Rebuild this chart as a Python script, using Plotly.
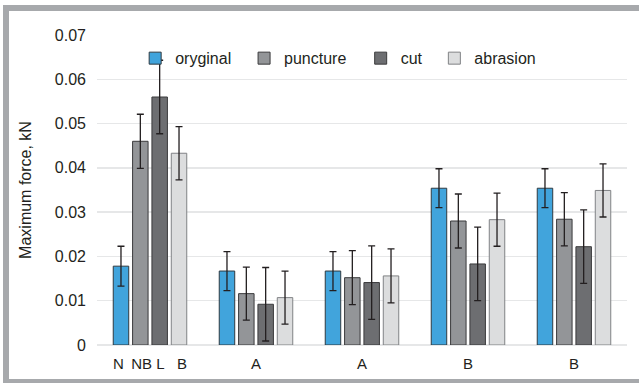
import plotly.graph_objects as go

groups = ["N\u2002NB\u00a0L\u00a0\u00a0\u00a0B", "A", "A", "B", "B"]
group_pos = [0, 1, 2, 3, 4]

series_names = ["oryginal", "puncture", "cut", "abrasion"]
oryginal = [0.0178, 0.0167, 0.0167, 0.0354, 0.0354]
puncture = [0.0460, 0.0116, 0.0152, 0.0280, 0.0284]
cut = [0.0560, 0.0092, 0.0141, 0.0183, 0.0222]
abrasion = [0.0433, 0.0107, 0.0156, 0.0283, 0.0349]

err_oryginal = [0.0045, 0.0044, 0.0044, 0.0044, 0.0044]
err_puncture = [0.0061, 0.0060, 0.0061, 0.0061, 0.0060]
err_cut = [0.0083, 0.0083, 0.0083, 0.0083, 0.0083]
err_abrasion = [0.0060, 0.0060, 0.0061, 0.0060, 0.0060]

y_ticks = [0, 0.01, 0.02, 0.03, 0.04, 0.05, 0.06, 0.07]
y_ticktext = ["0", "0.01", "0.02", "0.03", "0.04", "0.05", "0.06", "0.07"]

values = [oryginal, puncture, cut, abrasion]
errors = [err_oryginal, err_puncture, err_cut, err_abrasion]
fills = ["#41A4DC", "#939598", "#6D6E71", "#DCDDDE"]
edges = ["#2f3a40", "#3a3a3c", "#3a3a3c", "#808285"]
legend_ids = ["legend", "legend2", "legend3", "legend4"]
legend_x = [0.0720, 0.2775, 0.4975, 0.6365]

FONT = "Liberation Sans, Arial, sans-serif"
TXT = "#231F20"

fig = go.Figure()
for name, v, e, fc, ec, lid in zip(series_names, values, errors, fills, edges, legend_ids):
    fig.add_trace(go.Bar(
        x=group_pos, y=v, name=name, legend=lid, showlegend=True,
        marker=dict(color=fc, line=dict(color=ec, width=1)),
        error_y=dict(type="data", array=e, visible=True, color=TXT, thickness=1.3, width=3.5),
    ))

leg_common = dict(orientation="h", y=0.925, yanchor="middle", xanchor="left",
                  bgcolor="rgba(0,0,0,0)", font=dict(family=FONT, size=16, color=TXT),
                  itemwidth=30, borderwidth=0)
layout_legends = {}
for lid, lx in zip(legend_ids, legend_x):
    layout_legends[lid] = dict(x=lx, **leg_common)

fig.update_layout(
    width=639, height=383,
    margin=dict(l=97, r=12, t=35, b=38, autoexpand=False),
    paper_bgcolor="white", plot_bgcolor="white",
    showlegend=True,
    barmode="group", bargap=0.27, bargroupgap=0.2,
    font=dict(family=FONT, size=16, color=TXT),
    **layout_legends,
    xaxis=dict(
        tickmode="array", tickvals=group_pos, ticktext=groups,
        range=[-0.5, 4.5], showgrid=False, zeroline=False, showline=False,
        ticks="", ticklabelstandoff=8, tickfont=dict(family=FONT, size=15, color=TXT),
        fixedrange=True,
    ),
    yaxis=dict(
        range=[0, 0.07], tickmode="array", tickvals=y_ticks, ticktext=y_ticktext,
        showgrid=True, gridcolor="#E6E7E8", gridwidth=1.5,
        zeroline=True, zerolinecolor="#E6E7E8", zerolinewidth=1.5,
        showline=False, ticks="", ticklabelstandoff=10,
        tickfont=dict(family=FONT, size=16, color=TXT),
        title=dict(text="Maximum force, kN", font=dict(family=FONT, size=16, color=TXT), standoff=19),
        fixedrange=True,
    ),
    shapes=[dict(type="rect", xref="paper", yref="paper",
                 x0=(6 - 97) / 530, x1=(700 - 97) / 530,
                 y0=(345 - 382) / 310, y1=(345 - 8) / 310,
                 line=dict(color="#A7A9AC", width=6), fillcolor="rgba(0,0,0,0)", layer="below")],
)

fig.write_html("out.html", config={"displayModeBar": False, "staticPlot": True},
               post_script="document.body.style.margin='0';document.body.style.padding='0';")
